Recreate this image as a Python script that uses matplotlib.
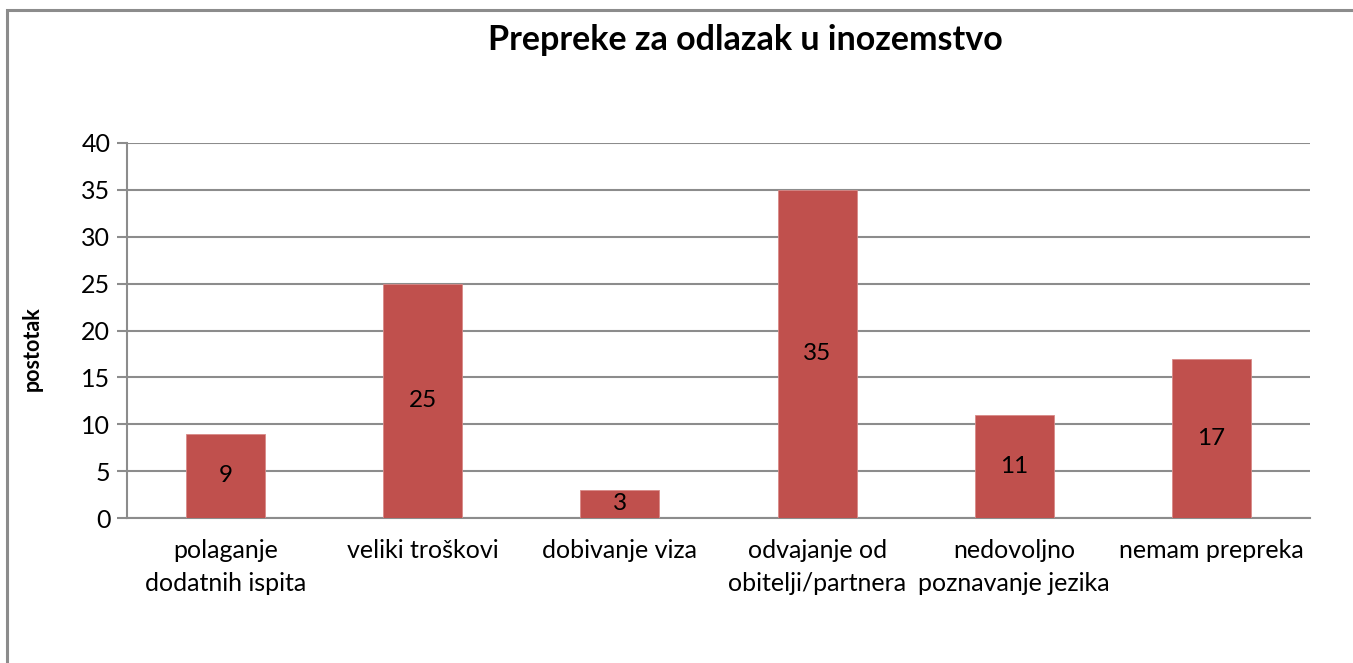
import matplotlib.pyplot as plt
from matplotlib.patches import Rectangle

plt.rcParams['font.family'] = ['Lato', 'DejaVu Sans']

# Prepreke za odlazak u inozemstvo
categories = [
    'polaganje\ndodatnih ispita',
    'veliki troškovi',
    'dobivanje viza',
    'odvajanje od\nobitelji/partnera',
    'nedovoljno\npoznavanje jezika',
    'nemam prepreka',
]
values = [9, 25, 3, 35, 11, 17]
yticks = [0, 5, 10, 15, 20, 25, 30, 35, 40]

W, H = 1353, 663
fig = plt.figure(figsize=(W / 100, H / 100), dpi=100)

# outer chart border (right and bottom are cut off in the original)
fig.patches.append(Rectangle((7 / W, -0.1), 1.2, 1 - 10 / H + 0.1,
                             transform=fig.transFigure, fill=False,
                             edgecolor='#8c8c8c', linewidth=2.2))

ax = fig.add_axes([127 / W, 1 - 518 / H, (1310 - 127) / W, (518 - 143) / H])
x = range(len(categories))
bars = ax.bar(x, values, width=0.4, color='#C0504D', edgecolor='#d88a88',
              linewidth=0.6, zorder=3)

for b, v in zip(bars, values):
    ax.text(b.get_x() + b.get_width() / 2, v / 2, str(v),
            ha='center', va='center', fontsize=17.5, color='black', zorder=4)

ax.set_xlim(-0.5, len(categories) - 0.5)
ax.set_ylim(0, 40)
ax.set_yticks(yticks)
ax.set_xticks(list(x))
ax.set_xticklabels(categories, fontsize=18, linespacing=1.55)
ax.tick_params(axis='x', length=0, pad=15)
ax.tick_params(axis='y', labelsize=18, length=7, width=1.5, color='#8c8c8c', pad=5)
ax.grid(axis='y', color='#8c8c8c', linewidth=1.5, zorder=0)

for s in ['top', 'right']:
    ax.spines[s].set_visible(False)
for s in ['left', 'bottom']:
    ax.spines[s].set_color('#8c8c8c')
    ax.spines[s].set_linewidth(1.5)

fig.text(32 / W, 1 - 349 / H, 'postotak', rotation=90, ha='center', va='center',
         fontsize=15.5, fontweight='bold')
fig.text(745 / W, 1 - 40 / H, 'Prepreke za odlazak u inozemstvo',
         ha='center', va='center', fontsize=24.5, fontweight='bold')

fig.savefig('out.png', dpi=100)
